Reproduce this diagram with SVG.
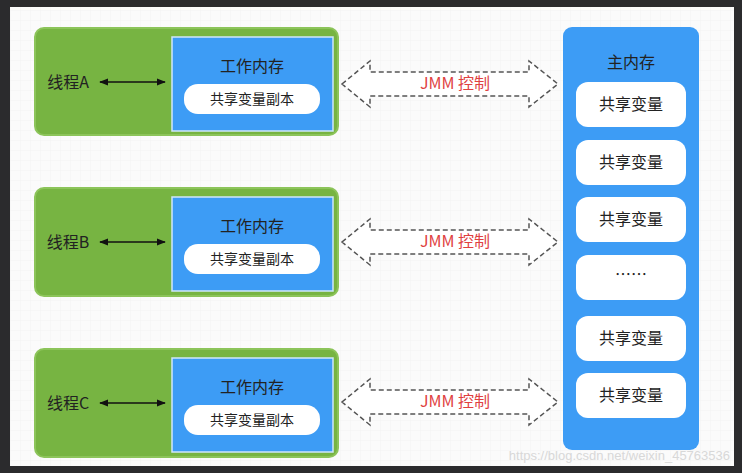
<svg xmlns="http://www.w3.org/2000/svg" width="742" height="473" viewBox="0 0 742 473">
<defs>
<pattern id="grid" width="10" height="10" patternUnits="userSpaceOnUse"><path d="M10 0H0V10" fill="none" stroke="#eeeeee" stroke-width="0.6"/></pattern>
<marker id="ah" viewBox="0 0 10 10" refX="9" refY="5" markerWidth="6" markerHeight="6" orient="auto-start-reverse"><path d="M0 1L10 5L0 9z" fill="#111"/></marker>
<style>
.thread{fill:#77b442;stroke:#8cc45a;stroke-width:2}
.work{fill:#3d9cf5;stroke:#cfe6fb;stroke-width:1.5}
.pill{fill:#fff}
.t{font-family:"Noto Sans CJK SC","Noto Sans",sans-serif;fill:#222;text-anchor:middle}
.big{font-size:16px}
.sm{font-size:14px}
.jmm{font-family:"Noto Sans CJK SC","Noto Sans",sans-serif;font-size:16px;fill:#e0413f;text-anchor:middle}
.dash{fill:#fff;stroke:#555;stroke-width:1.5;stroke-dasharray:5 3}
</style>
</defs>
<rect width="742" height="473" fill="#2b2b2d"/>
<rect x="10" y="7" width="724" height="459" fill="#fbfbfb"/>
<rect x="10" y="7" width="724" height="459" fill="url(#grid)"/>
<g id="threadA">
<rect class="thread" x="35" y="28" width="303" height="107" rx="9"/>
<rect class="work" x="172" y="37" width="161" height="94"/>
<text class="t big" x="252" y="72">工作内存</text>
<rect class="pill" x="184" y="84" width="136" height="30" rx="14"/>
<text class="t sm" x="252" y="104">共享变量副本</text>
<text class="t big" x="68" y="88">线程A</text>
</g>
<g id="threadB">
<rect class="thread" x="35" y="188" width="303" height="108" rx="9"/>
<rect class="work" x="172" y="197" width="161" height="94"/>
<text class="t big" x="252" y="232">工作内存</text>
<rect class="pill" x="184" y="244" width="136" height="30" rx="14"/>
<text class="t sm" x="252" y="264">共享变量副本</text>
<text class="t big" x="68" y="248">线程B</text>
</g>
<g id="threadC">
<rect class="thread" x="35" y="349" width="303" height="108" rx="9"/>
<rect class="work" x="172" y="358" width="161" height="94"/>
<text class="t big" x="252" y="393">工作内存</text>
<rect class="pill" x="184" y="405" width="136" height="30" rx="14"/>
<text class="t sm" x="252" y="425">共享变量副本</text>
<text class="t big" x="68" y="409">线程C</text>
</g>
<g id="main">
<rect x="563" y="27" width="136" height="423" rx="9" fill="#3d9cf5"/>
<text class="t big" x="631" y="68">主内存</text>
<rect class="pill" x="576" y="82" width="110" height="45" rx="12"/><text class="t big" x="631" y="110">共享变量</text>
<rect class="pill" x="576" y="140" width="110" height="45" rx="12"/><text class="t big" x="631" y="168">共享变量</text>
<rect class="pill" x="576" y="197" width="110" height="45" rx="12"/><text class="t big" x="631" y="225">共享变量</text>
<rect class="pill" x="576" y="255" width="110" height="45" rx="12"/><text class="t big" x="631" y="280">……</text>
<rect class="pill" x="576" y="316" width="110" height="45" rx="12"/><text class="t big" x="631" y="344">共享变量</text>
<rect class="pill" x="576" y="373" width="110" height="45" rx="12"/><text class="t big" x="631" y="401">共享变量</text>
</g>
<g id="connectors">
<line x1="100" y1="82" x2="165" y2="82" stroke="#111" stroke-width="1.5" marker-start="url(#ah)" marker-end="url(#ah)"/>
<line x1="100" y1="242" x2="165" y2="242" stroke="#111" stroke-width="1.5" marker-start="url(#ah)" marker-end="url(#ah)"/>
<line x1="100" y1="403" x2="165" y2="403" stroke="#111" stroke-width="1.5" marker-start="url(#ah)" marker-end="url(#ah)"/>
<path class="dash" d="M342 84L370 61V72H529V61L558 84L529 107V96H370V107Z"/>
<path class="dash" d="M342 242L370 219V230H529V219L558 242L529 265V254H370V265Z"/>
<path class="dash" d="M342 402L370 379V390H529V379L558 402L529 425V414H370V425Z"/>
<text class="jmm" x="455" y="89">JMM 控制</text>
<text class="jmm" x="455" y="247">JMM 控制</text>
<text class="jmm" x="455" y="407">JMM 控制</text>
</g>
<text x="730" y="460" font-family="Liberation Sans,sans-serif" font-size="13" fill="#d8d8d8" text-anchor="end">https://blog.csdn.net/weixin_45763536</text>
</svg>
